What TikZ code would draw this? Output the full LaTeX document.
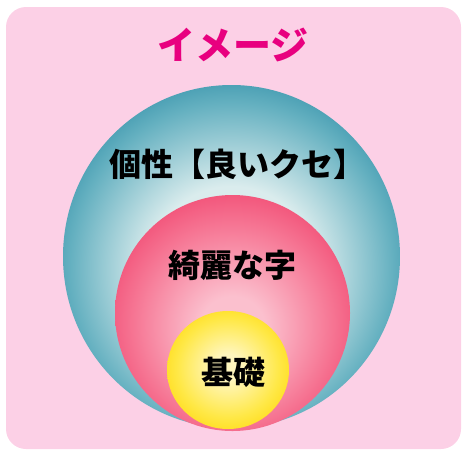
\documentclass[tikz,border=0pt]{standalone}
\usepackage{fontspec}
\newfontfamily\jp{Noto Sans CJK JP}
\definecolor{bgpink}{RGB}{252,208,230}
\definecolor{titlemag}{RGB}{232,0,127}
\definecolor{tealout}{RGB}{36,134,162}
\definecolor{tealmid}{RGB}{100,176,192}
\definecolor{tealin}{RGB}{218,236,237}
\definecolor{pinkout}{RGB}{240,66,108}
\definecolor{pinkmid}{RGB}{246,118,148}
\definecolor{pinkin}{RGB}{251,192,206}
\definecolor{yelout}{RGB}{255,218,20}
\definecolor{yelmid}{RGB}{255,232,70}
\definecolor{yelin}{RGB}{255,246,190}
\pgfdeclareradialshading{tealshade}{\pgfpoint{0bp}{-3bp}}{color(0bp)=(tealin); color(12.5bp)=(tealin); color(24bp)=(tealmid); color(31bp)=(tealout); color(50bp)=(tealout)}
\pgfdeclareradialshading{pinkshade}{\pgfpoint{0bp}{-4bp}}{color(0bp)=(pinkin); color(7bp)=(pinkin); color(21bp)=(pinkmid); color(31bp)=(pinkout); color(50bp)=(pinkout)}
\pgfdeclareradialshading{yelshade}{\pgfpoint{0bp}{1.5bp}}{color(0bp)=(yelin); color(5.5bp)=(yelin); color(21bp)=(yelmid); color(29.5bp)=(yelout); color(50bp)=(yelout)}
\tikzset{
  lbl/.style={inner sep=0pt, text=black, font=\jp\bfseries\fontsize{32}{32}\selectfont},
  ttl/.style={inner sep=0pt, text=titlemag, font=\jp\bfseries\fontsize{38}{38}\selectfont}
}
\begin{document}
\begin{tikzpicture}[x=1pt,y=-1pt]
\useasboundingbox (0,0) rectangle (462,450);
\fill[bgpink, rounded corners=20pt] (6,7) rectangle (461,449);
\shade[shading=tealshade] (231.5,256.5) ellipse [x radius=168.5, y radius=171.5];
\shade[shading=pinkshade] (232.5,313) ellipse [x radius=117.5, y radius=118];
\shade[shading=yelshade] (228,370) ellipse [x radius=61, y radius=59];
\node[ttl] (title) at (233,45) {イメージ};
\node[lbl, anchor=west] (kosei) at (109,164) {個性【良いクセ】};
\node[lbl] (kirei) at (232,265) {綺麗な字};
\node[lbl] (kiso) at (233,372) {基礎};
\end{tikzpicture}
\end{document}
